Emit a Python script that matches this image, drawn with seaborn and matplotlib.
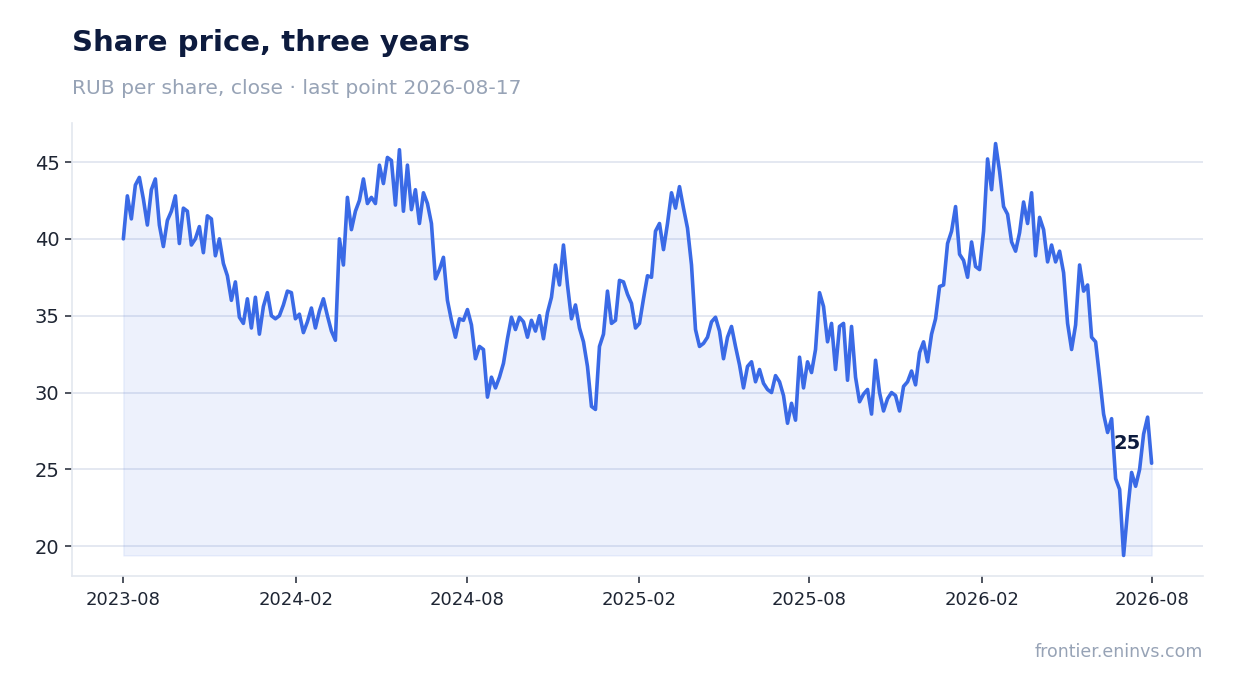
"""
Share price chart, three years of daily closes.
"""
import pandas as pd
import matplotlib
matplotlib.use('Agg')
import matplotlib.pyplot as plt
import seaborn as sns

START = "2023-08-17"
END = "2026-08-17"

# closes, evenly spaced between START and END
close = [
    40.0, 42.8, 41.3, 43.5, 44.0, 42.6, 40.9, 43.2, 43.9, 40.9,
    39.5, 41.2, 41.8, 42.8, 39.7, 42.0, 41.8, 39.6, 40.0, 40.8,
    39.1, 41.5, 41.3, 38.9, 40.0, 38.4, 37.6, 36.0, 37.2, 34.9,
    34.5, 36.1, 34.2, 36.2, 33.8, 35.6, 36.5, 35.0, 34.8, 35.0,
    35.7, 36.6, 36.5, 34.8, 35.1, 33.9, 34.6, 35.5, 34.2, 35.3,
    36.1, 35.0, 34.0, 33.4, 40.0, 38.3, 42.7, 40.6, 41.8, 42.5,
    43.9, 42.3, 42.7, 42.3, 44.8, 43.6, 45.3, 45.1, 42.2, 45.8,
    41.8, 44.8, 41.9, 43.2, 41.0, 43.0, 42.3, 41.0, 37.4, 38.0,
    38.8, 36.0, 34.7, 33.6, 34.8, 34.7, 35.4, 34.4, 32.2, 33.0,
    32.8, 29.7, 31.0, 30.3, 31.0, 31.9, 33.5, 34.9, 34.1, 34.9,
    34.6, 33.6, 34.7, 34.0, 35.0, 33.5, 35.2, 36.2, 38.3, 37.0,
    39.6, 37.0, 34.8, 35.7, 34.2, 33.3, 31.7, 29.1, 28.9, 33.0,
    33.8, 36.6, 34.5, 34.7, 37.3, 37.2, 36.4, 35.8, 34.2, 34.5,
    36.1, 37.6, 37.5, 40.5, 41.0, 39.3, 41.0, 43.0, 42.0, 43.4,
    42.0, 40.7, 38.3, 34.1, 33.0, 33.2, 33.6, 34.6, 34.9, 34.0,
    32.2, 33.6, 34.3, 33.0, 31.8, 30.3, 31.7, 32.0, 30.7, 31.5,
    30.6, 30.2, 30.0, 31.1, 30.7, 29.8, 28.0, 29.3, 28.2, 32.3,
    30.3, 32.0, 31.3, 32.8, 36.5, 35.6, 33.3, 34.5, 31.5, 34.3,
    34.5, 30.8, 34.3, 31.0, 29.4, 29.9, 30.2, 28.6, 32.1, 30.0,
    28.8, 29.6, 30.0, 29.8, 28.8, 30.4, 30.7, 31.4, 30.5, 32.6,
    33.3, 32.0, 33.8, 34.8, 36.9, 37.0, 39.7, 40.5, 42.1, 39.0,
    38.6, 37.5, 39.8, 38.2, 38.0, 40.5, 45.2, 43.2, 46.2, 44.4,
    42.1, 41.6, 39.8, 39.2, 40.4, 42.4, 41.0, 43.0, 38.9, 41.4,
    40.6, 38.5, 39.6, 38.5, 39.2, 37.8, 34.5, 32.8, 34.4, 38.3,
    36.6, 37.0, 33.6, 33.3, 31.0, 28.6, 27.4, 28.3, 24.4, 23.7,
    19.4, 22.3, 24.8, 23.9, 25.0, 27.3, 28.4, 25.4,
]

tick_dates = ["2023-08-17", "2024-02-17", "2024-08-17", "2025-02-17",
              "2025-08-17", "2026-02-17", "2026-08-17"]
tick_labels = ["2023-08", "2024-02", "2024-08", "2025-02",
               "2025-08", "2026-02", "2026-08"]

LINE = "#3a6ae6"
NAVY = "#0d1b3e"
GREY = "#97a3b6"

df = pd.DataFrame({"date": pd.date_range(START, END, periods=len(close)),
                   "close": close})

sns.set_theme(style="white")
plt.rcParams['font.family'] = ['DejaVu Sans']

fig = plt.figure(figsize=(12.34, 6.93), dpi=100)
ax = fig.add_axes([0.0583, 0.1688, 0.9166, 0.6537])

ax.fill_between(df["date"], df["close"], df["close"].min(),
                color=LINE, alpha=0.09, lw=1, zorder=1)
sns.lineplot(data=df, x="date", y="close", ax=ax, color=LINE, lw=2.6, zorder=3)

ax.set_xticks(pd.to_datetime(tick_dates))
ax.set_xticklabels(tick_labels)
ax.set_xlabel(""); ax.set_ylabel("")

ax.grid(axis="y", color="#dfe4ef", lw=1.2)
ax.set_axisbelow(True)
for side in ("top", "right"):
    ax.spines[side].set_visible(False)
for side in ("left", "bottom"):
    ax.spines[side].set_color("#e3e7ef")
    ax.spines[side].set_linewidth(1.2)
ax.tick_params(axis="x", labelsize=13, colors="#1e2533", length=5, width=1.1,
               pad=6, bottom=True)
ax.tick_params(axis="y", labelsize=14, colors="#1e2533", length=5, width=1.1,
               pad=4, left=True)
for lab in ax.get_xticklabels() + ax.get_yticklabels():
    lab.set_color("#1e2533")

last = df.iloc[-1]
ax.annotate(f"{last['close']:.0f}", (last["date"], last["close"]),
            xytext=(-8, 14), textcoords="offset points",
            ha="right", va="center", fontsize=14, fontweight="bold", color=NAVY)

fig.text(72 / 1234, 1 - 43 / 693, "Share price, three years",
         fontsize=21, fontweight="bold", color=NAVY, va="center", ha="left")
fig.text(72 / 1234, 1 - 88 / 693, "RUB per share, close · last point 2026-08-17",
         fontsize=14.6, color=GREY, va="center", ha="left")
fig.text(1203 / 1234, 1 - 652 / 693, "frontier.eninvs.com",
         fontsize=12.5, color=GREY, va="center", ha="right")

fig.savefig("out.png", dpi=100)
plt.close(fig)
